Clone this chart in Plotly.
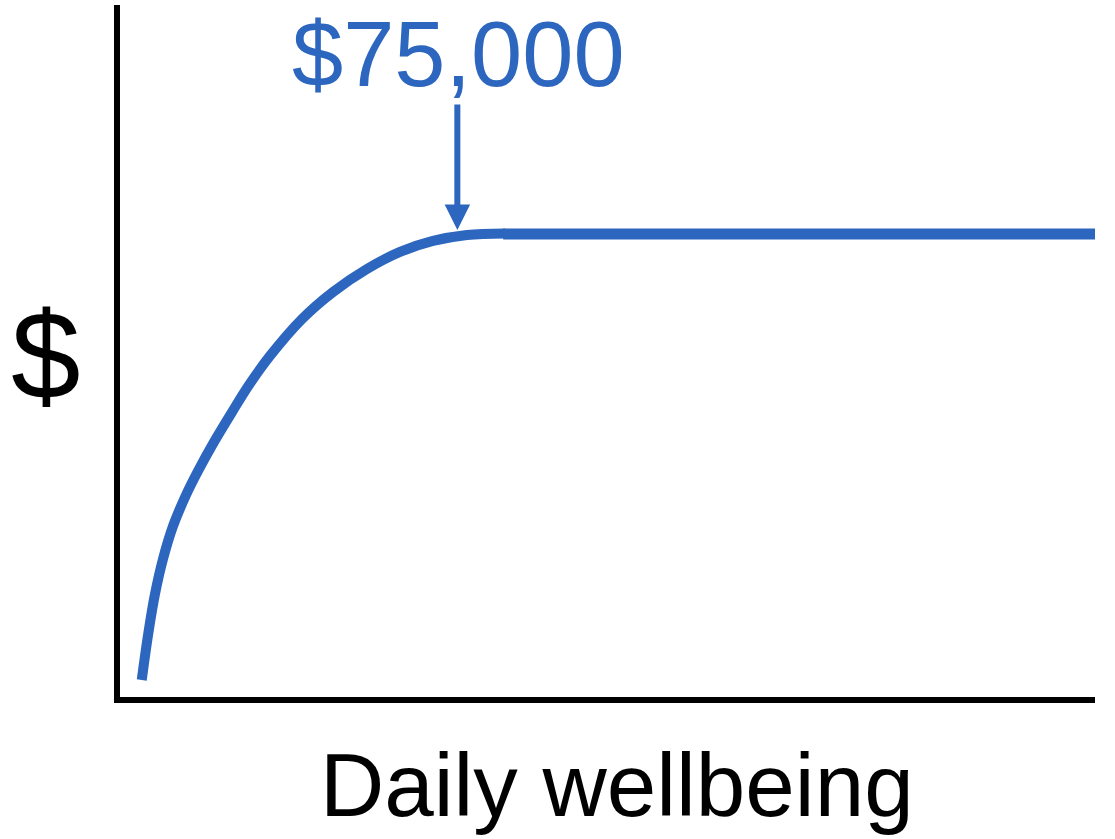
import plotly.graph_objects as go

# Data (x = daily wellbeing, y = $), both on a 0-100 scale
curve_wellbeing = [2.23, 2.90, 3.59, 4.41, 5.44, 6.77, 8.00, 9.64, 11.49, 13.23,
                   15.38, 18.67, 21.85, 25.33, 28.72, 32.10, 35.59, 39.49]
curve_dollars = [2.46, 9.18, 14.88, 19.94, 24.71, 29.19, 32.66, 36.85, 41.18, 45.09,
                 49.28, 54.62, 58.53, 61.85, 64.31, 65.90, 66.76, 66.98]
plateau_wellbeing = [39.3, 100]
plateau_dollars = [66.9, 66.9]
threshold_wellbeing = 34.6
threshold_dollars = 67.5
threshold_label = "$75,000"
x_label = "Daily wellbeing"
y_label = "$"

BLUE = "#2C66BE"
FONT = "Liberation Sans, Arial, Helvetica, sans-serif"

fig = go.Figure()
fig.add_trace(go.Scatter(x=curve_wellbeing, y=curve_dollars, mode="lines",
                         line=dict(color=BLUE, width=10, shape="spline", smoothing=1.0),
                         hoverinfo="skip", showlegend=False))
fig.add_trace(go.Scatter(x=plateau_wellbeing, y=plateau_dollars, mode="lines",
                         line=dict(color=BLUE, width=11),
                         hoverinfo="skip", showlegend=False))

# arrow
fig.add_annotation(x=threshold_wellbeing, y=threshold_dollars, xref="x", yref="y",
                   text="", showarrow=True, ax=0, ay=-127, axref="pixel", ayref="pixel",
                   arrowhead=2, arrowsize=0.85, arrowwidth=6, arrowcolor=BLUE, standoff=0)
# labels
fig.add_annotation(x=0.3467, y=0.929, xref="paper", yref="paper", text=threshold_label,
                   showarrow=False, xanchor="center", yanchor="middle",
                   font=dict(family=FONT, size=92, color=BLUE))
fig.add_annotation(x=-0.0759, y=0.4928, xref="paper", yref="paper", text=y_label,
                   showarrow=False, xanchor="center", yanchor="middle",
                   font=dict(family=FONT, size=125, color="black"))
fig.add_annotation(x=0.510, y=-0.127, xref="paper", yref="paper", text=x_label,
                   showarrow=False, xanchor="center", yanchor="middle",
                   font=dict(family=FONT, size=89, color="black"))

axis_common = dict(showline=True, linewidth=6, linecolor="black", showgrid=False,
                   zeroline=False, showticklabels=False, ticks="", range=[0, 100],
                   fixedrange=True)
fig.update_xaxes(**axis_common)
fig.update_yaxes(**axis_common)

fig.update_layout(width=1115, height=839, autosize=False,
                  margin=dict(l=120, r=20, t=5, b=142),
                  plot_bgcolor="white", paper_bgcolor="white",
                  font=dict(family=FONT))

fig.write_html("out.html", config={"displayModeBar": False},
               post_script="document.body.style.margin='0';document.body.style.overflow='hidden';")
